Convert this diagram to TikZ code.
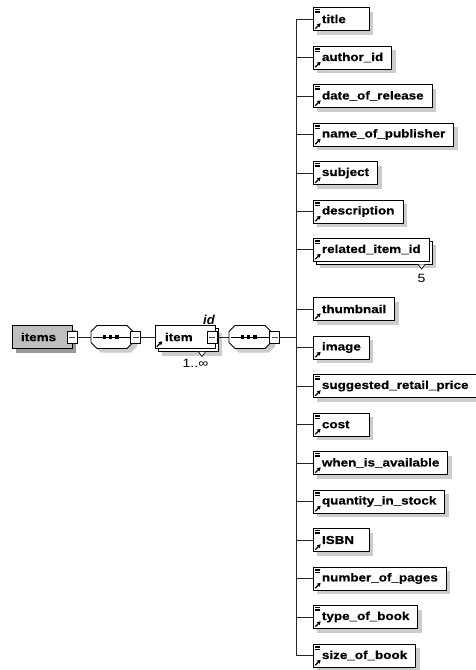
\documentclass[tikz,border=0pt]{standalone}
\usepackage{fontspec}
\setmainfont{Liberation Sans}
\newfontfamily\boxfont{Liberation Sans}[FakeStretch=1.17,BoldFeatures={FakeBold=0.6}]
\usetikzlibrary{shadows,arrows.meta}
\newcommand\padtxt[1]{\setbox0=\hbox{#1}\ifdim\wd0<39pt\hbox to 39pt{#1\hfil}\else\box0\fi}
\newcommand\seqshape[1]{%
  \fill[black!20,transform canvas={shift={(4pt,-4pt)}}]
    ([xshift=6pt]#1.north west) -- ([xshift=-6pt]#1.north east) -- ([yshift=-6pt]#1.north east) --
    ([yshift=6pt]#1.south east) -- ([xshift=-6pt]#1.south east) -- ([xshift=6pt]#1.south west) --
    ([yshift=6pt]#1.south west) -- ([yshift=-6pt]#1.north west) -- cycle;
  \draw[line width=0.9pt,fill=white]
    ([xshift=6pt]#1.north west) -- ([xshift=-6pt]#1.north east) -- ([yshift=-6pt]#1.north east) --
    ([yshift=6pt]#1.south east) -- ([xshift=-6pt]#1.south east) -- ([xshift=6pt]#1.south west) --
    ([yshift=6pt]#1.south west) -- ([yshift=-6pt]#1.north west) -- cycle;
  \draw[line width=0.9pt] ([xshift=2pt]#1.west) -- (#1.east);
  \foreach \dx in {-9.5pt,-3.3pt,2.9pt}
    \fill ([shift={(\dx,-1.8pt)}]#1.center) rectangle ++(3.6pt,3.6pt);
}
\newcommand\occtick[1]{%
  \draw[line width=0.7pt,fill=white] ([xshift=-3.5pt]#1) -- ([yshift=-4.5pt]#1) -- ([xshift=3.5pt]#1);
}
\tikzset{
  x=1pt,y=-1pt,
  conn/.style={line width=0.9pt,draw=black!85},
  shad/.style={drop shadow={shadow xshift=4pt,shadow yshift=-4pt,fill=black!20,opacity=1}},
  dshad/.style={drop shadow={shadow xshift=7pt,shadow yshift=-7pt,fill=black!20,opacity=1},
    copy shadow={shadow xshift=3pt,shadow yshift=-3pt,draw=black,fill=white,line width=0.9pt}},
  box/.style={draw=black,line width=0.9pt,fill=white,minimum height=23pt,inner xsep=8.5pt,
    inner ysep=0pt,font=\boxfont\bfseries\fontsize{11.5}{13}\selectfont},
  arrowpic/.style={path picture={
    \draw[line width=1.2pt,-{Triangle[length=3.4pt,width=4pt]}]
      ([shift={(1.8pt,1.8pt)}]path picture bounding box.south west) -- ++(5.4pt,5.4pt);}},
  docpic/.style={path picture={
    \draw[line width=1.2pt,-{Triangle[length=3.4pt,width=4pt]}]
      ([shift={(1.8pt,1.8pt)}]path picture bounding box.south west) -- ++(5.4pt,5.4pt);
    \foreach \dd in {1.9pt,3.6pt,5.3pt}
      \draw[line width=0.8pt] ([shift={(1.6pt,-\dd)}]path picture bounding box.north west) -- ++(5pt,0pt);}},
  elemD/.style={box,shad,docpic,anchor=west},
  elemA/.style={box,shad,arrowpic,anchor=west},
  minusbox/.style={draw=black,line width=0.8pt,fill=white,minimum width=10pt,minimum height=12pt,
    inner sep=0pt,path picture={\draw[line width=0.8pt,black!70]
      ([xshift=2pt]path picture bounding box.west) -- ([xshift=-2pt]path picture bounding box.east);}},
  seqnode/.style={rectangle,minimum width=42pt,minimum height=23pt,inner sep=0pt,outer sep=0pt},
  lbl/.style={font=\boxfont\fontsize{12}{12}\selectfont,inner sep=0pt},
}
\begin{document}
\begin{tikzpicture}
\useasboundingbox (0,0) rectangle (475,670);
\fill[white] (0,0) rectangle (475,670);

% left chain
\node[box,fill=black!25,minimum width=60pt,inner xsep=0pt,
      drop shadow={shadow xshift=4pt,shadow yshift=-4pt,fill=black!40,opacity=1}]
      (items) at (42,337) {\hbox to 60pt{\hskip9pt items\hfil}};
\node[minusbox] (m1) at (72,337) {};
\node[seqnode] (s1) at (112,337) {};
\seqshape{s1}
\node[minusbox] (m2) at (135.5,337) {};
\node[box,dshad,arrowpic,minimum width=60pt,inner xsep=0pt] (item) at (185,337)
      {\hbox to 60pt{\hskip10pt item\hfil}};
\coordinate (tk1) at ([shift={(-13.5pt,-3pt)}]item.south east);
\occtick{tk1}
\node[minusbox] (m3) at (212,337) {};
\node[font=\bfseries\itshape\fontsize{13}{13}\selectfont,anchor=base,inner sep=0pt] (idlbl) at (209,324.5) {id};
\node[lbl] (occ1) at ([shift={(-20pt,-14pt)}]item.south east) {1..∞};
\node[seqnode] (s2) at (250,337) {};
\seqshape{s2}
\node[minusbox] (m4) at (274.5,337) {};
\coordinate (trunk) at (296,337);

\draw[conn] (m1.east) -- (s1.west);
\draw[conn] (m2.east) -- (item.west);
\draw[conn] (m3.east) -- (s2.west);
\draw[conn] (m4.east) -- (trunk);

% children
\node[elemD] (c1) at (313,19) {\padtxt{title}};
\node[elemD] (c2) at (313,57.5) {\padtxt{author\_id}};
\node[elemD] (c3) at (313,96) {\padtxt{date\_of\_release}};
\node[elemD] (c4) at (313,134.5) {\padtxt{name\_of\_publisher}};
\node[elemD] (c5) at (313,173) {\padtxt{subject}};
\node[elemD] (c6) at (313,211.5) {\padtxt{description}};
\node[box,dshad,docpic,anchor=west] (c7) at (313,249.5) {\padtxt{related\_item\_id}};
\coordinate (tk2) at ([shift={(-8pt,-3pt)}]c7.south east);
\occtick{tk2}
\node[lbl] (occ2) at ([shift={(-8pt,-16.5pt)}]c7.south east) {5};
\node[elemA] (c8) at (313,309) {\padtxt{thumbnail}};
\node[elemA] (c9) at (313,347.5) {\padtxt{image}};
\node[elemD] (c10) at (313,386) {\padtxt{suggested\_retail\_price}};
\node[elemD] (c11) at (313,424.5) {\padtxt{cost}};
\node[elemD] (c12) at (313,463) {\padtxt{when\_is\_available}};
\node[elemD] (c13) at (313,501.5) {\padtxt{quantity\_in\_stock}};
\node[elemD] (c14) at (313,540) {\padtxt{ISBN}};
\node[elemD] (c15) at (313,578.5) {\padtxt{number\_of\_pages}};
\node[elemD] (c16) at (313,617) {\padtxt{type\_of\_book}};
\node[elemD] (c17) at (313,655.5) {\padtxt{size\_of\_book}};

\draw[conn] (trunk |- c1.west) -- (trunk |- c17.west);
\foreach \c in {c1,c2,c3,c4,c5,c6,c7,c8,c9,c10,c11,c12,c13,c14,c15,c16,c17}
  \draw[conn] (trunk |- \c.west) -- (\c.west);
\end{tikzpicture}
\end{document}
